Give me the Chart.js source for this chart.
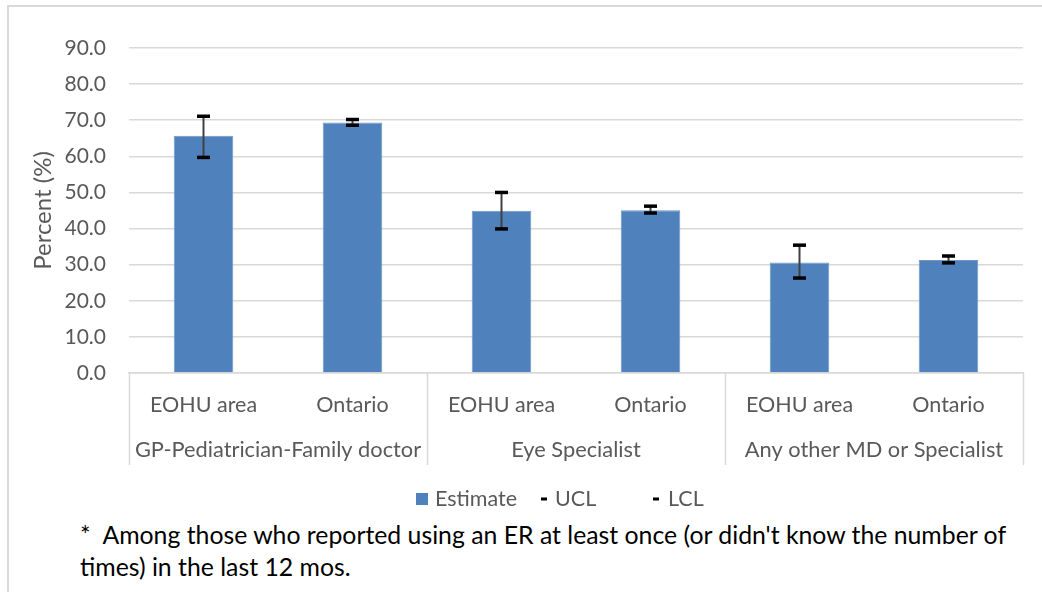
<!DOCTYPE html>
<html>
<head>
<meta charset="utf-8">
<script src="https://cdn.jsdelivr.net/npm/chart.js@4/dist/chart.umd.min.js"></script>
<style>
  body { margin: 0; background: #fff; }
  #wrap { position: relative; width: 1042px; height: 592px; overflow: hidden; }
  #frame { position: absolute; left: 7px; top: 5px; width: 1100px; height: 700px; border-left: 2px solid #d9d9d9; border-top: 2px solid #d9d9d9; }
  #c { position: absolute; left: 0; top: 0; }
  #note { position: absolute; left: 80px; top: 519px; font-family: Lato, "Open Sans", sans-serif; font-size: 24.8px; line-height: 32px; color: #000; white-space: nowrap; }
</style>
</head>
<body>
<div id="wrap">
  <div id="frame"></div>
  <canvas id="c" width="1042" height="515"></canvas>
  <div id="note">*&nbsp; Among those who reported using an ER at least once (or didn't know the number of<br>times) in the last 12 mos.</div>
</div>
<script>
const places = ['EOHU area', 'Ontario', 'EOHU area', 'Ontario', 'EOHU area', 'Ontario'];
const groups = ['GP-Pediatrician-Family doctor', 'Eye Specialist', 'Any other MD or Specialist'];
const estimate = [65.7, 69.4, 44.9, 45.1, 30.6, 31.3];
const ucl = [71.1, 70.2, 50.0, 46.2, 35.4, 32.4];
const lcl = [59.7, 68.6, 39.9, 44.3, 26.3, 30.5];
const yTicks = [0, 10, 20, 30, 40, 50, 60, 70, 80, 90];

const font = 'Lato, "Open Sans", sans-serif';
const grey = '#595959';

// vertical line from LCL to UCL, drawn over the bars
const errorLines = {
  id: 'errorLines',
  afterDatasetDraw(chart, args) {
    if (args.index !== 0) return;
    const up = chart.getDatasetMeta(1).data;
    const lo = chart.getDatasetMeta(2).data;
    const ctx = chart.ctx;
    ctx.save();
    ctx.strokeStyle = '#404040';
    ctx.lineWidth = 2;
    up.forEach((p, i) => {
      ctx.beginPath();
      ctx.moveTo(p.x, p.y);
      ctx.lineTo(lo[i].x, lo[i].y);
      ctx.stroke();
    });
    ctx.restore();
  }
};

// group labels, separators and legend
const extras = {
  id: 'extras',
  afterDraw(chart) {
    const ctx = chart.ctx;
    const x = chart.scales.x;
    const top = x.top;
    const bottom = x.top + 92;
    const step = x.getPixelForValue(1) - x.getPixelForValue(0);
    ctx.save();
    ctx.strokeStyle = '#d9d9d9';
    ctx.lineWidth = 1.5;
    for (let g = 0; g <= groups.length; g++) {
      const px = Math.round(x.left + g * 2 * step) + 0.5;
      ctx.beginPath();
      ctx.moveTo(px, top);
      ctx.lineTo(px, bottom);
      ctx.stroke();
    }
    ctx.fillStyle = grey;
    ctx.font = '21.8px ' + font;
    ctx.textAlign = 'center';
    ctx.textBaseline = 'middle';
    groups.forEach((g, i) => {
      const cx = (x.getPixelForValue(2 * i) + x.getPixelForValue(2 * i + 1)) / 2;
      ctx.fillText(g, cx, top + 77);
    });

    // legend
    const ly = 499;
    ctx.font = '21.5px ' + font;
    ctx.fillStyle = '#4f81bd';
    ctx.fillRect(416, ly - 6, 12, 12);
    ctx.fillStyle = grey;
    ctx.textAlign = 'left';
    ctx.fillText('Estimate', 435, ly);
    ctx.fillStyle = '#000';
    ctx.fillRect(541, ly - 1.5, 6, 3);
    ctx.fillStyle = grey;
    ctx.fillText('UCL', 555, ly);
    ctx.fillStyle = '#000';
    ctx.fillRect(653, ly - 1.5, 6, 3);
    ctx.fillStyle = grey;
    ctx.fillText('LCL', 668, ly);
    ctx.restore();
  }
};

new Chart(document.getElementById('c'), {
  data: {
    labels: places,
    datasets: [
      {
        type: 'bar',
        label: 'Estimate',
        data: estimate,
        backgroundColor: '#4f81bd',
        borderColor: '#6f97c9',
        borderWidth: 1,
        barPercentage: 0.4,
        categoryPercentage: 1,
        order: 3
      },
      {
        type: 'line',
        label: 'UCL',
        data: ucl,
        showLine: false,
        pointStyle: 'line',
        pointRadius: 6.5,
        pointBorderWidth: 3.5,
        borderColor: '#000',
        order: 1
      },
      {
        type: 'line',
        label: 'LCL',
        data: lcl,
        showLine: false,
        pointStyle: 'line',
        pointRadius: 6.5,
        pointBorderWidth: 3.5,
        borderColor: '#000',
        order: 1
      }
    ]
  },
  options: {
    responsive: false,
    animation: false,
    layout: { padding: { top: 48, right: 19, bottom: 50, left: 0 } },
    plugins: { legend: { display: false }, tooltip: { enabled: false } },
    scales: {
      x: {
        grid: { display: false },
        border: { display: true, color: '#d9d9d9', width: 1.5 },
        ticks: { color: grey, font: { family: font, size: 21.5 }, padding: 11, maxRotation: 0 },
        afterFit(s) { s.height = 92; }
      },
      y: {
        min: 0,
        max: 90,
        afterBuildTicks(s) { s.ticks = yTicks.map(v => ({ value: v })); },
        grid: { color: '#d9d9d9', lineWidth: 1.5, drawTicks: false },
        border: { display: false },
        ticks: {
          color: grey,
          font: { family: font, size: 21 },
          padding: 23,
          callback: v => Number(v).toFixed(1)
        },
        title: {
          display: true,
          text: 'Percent (%)',
          color: grey,
          font: { family: font, size: 24 },
          padding: { top: 29, bottom: 0 }
        },
        afterFit(s) { s.width = 129; }
      }
    }
  },
  plugins: [errorLines, extras]
});
</script>
</body>
</html>
